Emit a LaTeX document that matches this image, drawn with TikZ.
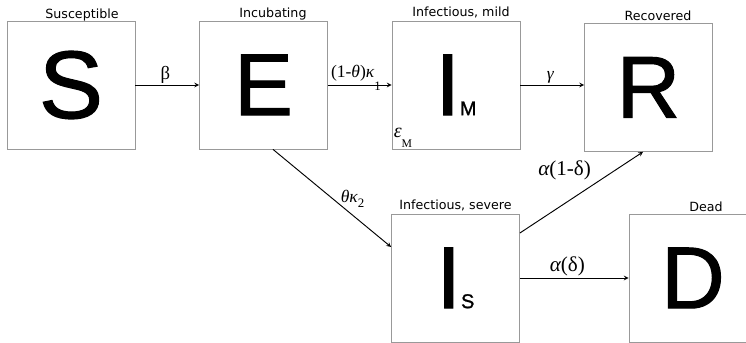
\documentclass[tikz,border=0pt]{standalone}
\usepackage{fontspec}
\setmainfont{Liberation Serif}
\newfontfamily\boxfont[FakeBold=1.2]{Liberation Sans}
\newfontfamily\titlefont{DejaVu Sans}

\begin{document}
\begin{tikzpicture}
[box/.style={draw=black!40, line width=0.7pt, minimum size=3.84cm, inner sep=0pt, font=\boxfont\fontsize{75}{75}\selectfont},
 title/.style={anchor=base, inner sep=0pt, font=\titlefont\fontsize{10.8}{13}\selectfont},
 rate/.style={inner sep=1pt, font=\fontsize{15}{18}\selectfont},
 >=stealth, line width=0.8pt]
\useasboundingbox (0,0) rectangle (22.38,10.29);
\node[box] (S) at (2.13,7.74) {\fontsize{82}{82}\selectfont S};
\node[box] (E) at (7.905,7.74) {E};
\node[box] (IM) at (13.68,7.74) {I{\fontsize{17}{17}\selectfont M}};
\node[box] (R) at (19.455,7.665) {R};
\node[box] (IS) at (13.665,1.95) {I{\fontsize{17}{17}\selectfont S}};
\node[box] (D) at (20.79,1.95) {D};

\node[title] (tS) at ([xshift=0.33cm, yshift=0.07cm]S.north) {Susceptible};
\node[title] (tE) at ([xshift=0.285cm, yshift=0.08cm]E.north) {Incubating};
\node[title] (tIM) at ([xshift=0.15cm, yshift=0.12cm]IM.north) {Infectious, mild};
\node[title] (tR) at ([xshift=0.285cm, yshift=0.07cm]R.north) {Recovered};
\node[title] (tIS) at ([yshift=0.12cm]IS.north) {Infectious, severe};
\node[title] (tD) at ([xshift=0.39cm, yshift=0.07cm]D.north) {Dead};
\node[anchor=south west, inner sep=1.5pt, font=\fontsize{17}{17}\selectfont] (eM) at (IM.south west)
  {\itshape ε\raisebox{-8pt}{\upshape\fontsize{10}{10}\selectfont M}};

\draw[->] (S) -- node[rate, above, pos=0.47, font=\fontsize{16}{18}\selectfont] {β} (E);
\draw[->] (E) -- node[rate, pos=0.44, anchor=base, yshift=6pt] {(1-{\itshape θ}){\itshape κ}\raisebox{-11pt}{\fontsize{11}{11}\selectfont 1}} (IM);
\draw[->] (IM.east) -- node[rate, above, pos=0.47] {\itshape γ} (IM.east -| R.west);
\draw[->] ([xshift=0.285cm]E.south) -- node[rate, pos=0.56, anchor=south west, yshift=-0.15cm]
  {{\itshape θκ}\raisebox{-4pt}{\fontsize{11}{11}\selectfont 2}} ([yshift=0.93cm]IS.west);
\draw[->] ([yshift=1.35cm]IS.east) -- node[rate, pos=0.59, anchor=south east, yshift=0.12cm, font=\fontsize{18}{20}\selectfont]
  {{\itshape α}(1-δ)} ([xshift=-0.165cm]R.south);
\draw[->] (IS) -- node[rate, above, pos=0.436, font=\fontsize{18}{20}\selectfont] {{\itshape α}(δ)} (D);
\end{tikzpicture}
\end{document}
